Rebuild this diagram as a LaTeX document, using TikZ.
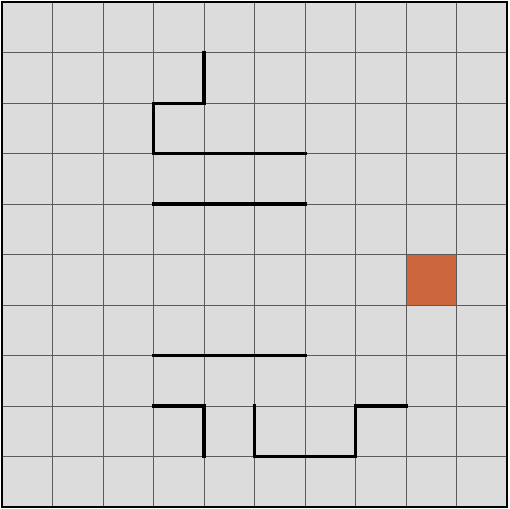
\documentclass[tikz,border=0pt]{standalone}
\definecolor{cellbg}{HTML}{DCDCDC}
\definecolor{gridc}{HTML}{5A5A5A}
\definecolor{goal}{HTML}{CC663C}
\tikzset{
  gridline/.style={draw=gridc, line width=0.5pt},
  wall/.style={draw=black, line width=1.7pt, line cap=rect, line join=miter},
  border/.style={draw=black, line width=1.6pt},
  goalcell/.style={fill=goal}
}
\begin{document}
\begin{tikzpicture}[yscale=-1]
\useasboundingbox (-0.04,-0.04) rectangle (10.04,10.04);
\fill[cellbg] (0,0) rectangle (10,10);
\fill[goalcell] (8,5) rectangle (9,6);
\draw[gridline] (0,0) grid (10,10);
\draw[wall] (4,1) -- (4,2) -- (3,2) -- (3,3) -- (6,3);
\draw[wall] (3,4) -- (6,4);
\draw[wall] (3,7) -- (6,7);
\draw[wall] (3,8) -- (4,8) -- (4,9);
\draw[wall] (5,8) -- (5,9) -- (7,9) -- (7,8) -- (8,8);
\draw[border] (0,0) rectangle (10,10);
\end{tikzpicture}
\end{document}
